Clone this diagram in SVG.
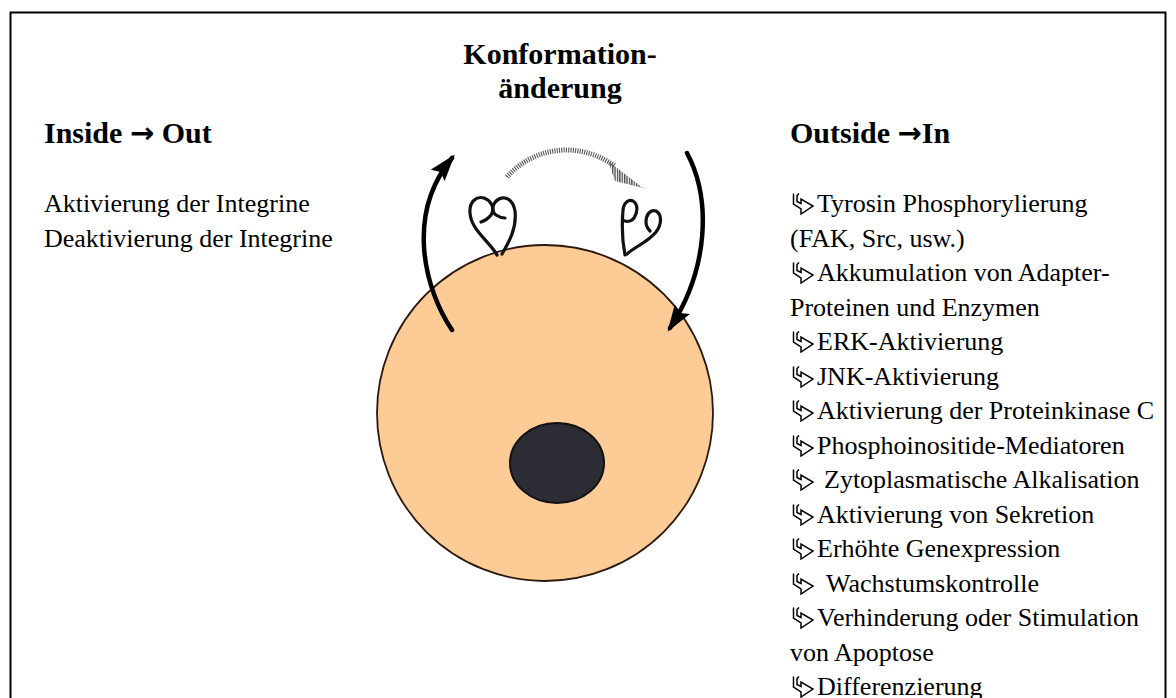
<svg xmlns="http://www.w3.org/2000/svg" width="1176" height="698" viewBox="0 0 1176 698">
  <style>
    .hdr { font-family: "Liberation Serif", "Times New Roman", serif; font-weight: bold; font-size: 30px; fill: #000; }
    .arr { font-family: "DejaVu Sans", sans-serif; font-weight: bold; font-size: 29px; }
    .txt { font-family: "Liberation Serif", "Times New Roman", serif; font-size: 26px; fill: #000; }
    .strand { fill: none; stroke: #111; stroke-width: 3.2; stroke-linecap: round; stroke-linejoin: round; }
    .bigarrow { fill: none; stroke: #000; stroke-width: 4.5; stroke-linecap: round; }
  </style>
  <defs>
    <marker id="head" viewBox="0 0 12 8" refX="10" refY="4" markerWidth="6" markerHeight="4" markerUnits="strokeWidth" orient="auto">
      <path d="M0,0 L12,4 L0,8 L2,4 Z" fill="#000"/>
    </marker>
    <pattern id="hatch" width="2.4" height="4" patternUnits="userSpaceOnUse">
      <rect x="0" y="0" width="1.3" height="4" fill="#444"/>
    </pattern>
    <!-- bullet pictogram: bent outline arrow -->
    <symbol id="bullet" viewBox="0 0 22 22">
      <path d="M1.5,0.5 V11 L9,16 V21 L21,13 L9,6 V10.5 L5,8.5 V2.5 L7,0.5" fill="none" stroke="#000" stroke-width="1.5" stroke-linejoin="miter"/>
    </symbol>
  </defs>

  <rect x="0" y="0" width="1176" height="698" fill="#fff"/>
  <!-- frame -->
  <path d="M10.5,720 V12.5 H1165.5 V720" fill="none" stroke="#000" stroke-width="2"/>

  <!-- cell -->
  <g id="cell">
    <circle cx="545" cy="413" r="168" fill="#FDCB96" stroke="#2a1a10" stroke-width="1.8"/>
    <ellipse cx="557" cy="463" rx="47" ry="40" fill="#2c2d34" stroke="#111" stroke-width="2"/>
  </g>

  <!-- integrin, bent / inactive -->
  <g id="integrin-left">
    <path class="strand" d="M497,255 C490,242 471,230 470,213 C469,201 477,196 484,198 C492,201 495,209 491,215 C488,219 484,221 481,222"/>
    <path class="strand" d="M502,254 C509,242 517,228 515,211 C513,199 505,196 499,199 C492,203 491,211 496,215 C499,217 503,218 505,218"/>
  </g>

  <!-- integrin, extended / active -->
  <g id="integrin-right">
    <path class="strand" d="M625,255 C622,240 622,222 623,210 C624,202 629,199 633,201 C638,204 638,212 634,218 C632,221 628,222 625,221"/>
    <path class="strand" d="M627,254 C636,246 648,242 656,232 C662,224 662,214 656,211 C650,209 646,215 646,222 C646,226 648,229 650,231"/>
  </g>

  <g id="connectors">
    <!-- inside-out -->
    <path class="bigarrow" d="M452,330 C425,290 405,215 452,158" marker-end="url(#head)"/>
    <!-- outside-in -->
    <path class="bigarrow" d="M687,153 C712,200 708,270 670,328" marker-end="url(#head)"/>
    <!-- conformational change -->
    <path d="M507,177 C530,150 575,138 615,166" fill="none" stroke="#555" stroke-width="5" stroke-dasharray="1.1 1.2"/>
    <path d="M608,161 L643,188 L615,181 Z" fill="url(#hatch)"/>
  </g>

  <g id="title">
    <text class="hdr" x="560" y="64" text-anchor="middle">Konformation-</text>
    <text class="hdr" x="560" y="98" text-anchor="middle">änderung</text>
  </g>

  <g id="inside-out">
    <text class="hdr" x="44" y="143">Inside <tspan class="arr">→</tspan> Out</text>
    <text class="txt" x="44" y="212">Aktivierung der Integrine</text>
    <text class="txt" x="44" y="246.5">Deaktivierung der Integrine</text>
  </g>

  <g id="outside-in">
    <text class="hdr" x="790" y="143">Outside <tspan class="arr">→</tspan>In</text>
    <use href="#bullet" x="792" y="193" width="22" height="22"/>
    <text class="txt" x="817" y="212">Tyrosin Phosphorylierung</text>
    <text class="txt" x="790" y="246.5">(FAK, Src, usw.)</text>
    <use href="#bullet" x="792" y="262" width="22" height="22"/>
    <text class="txt" x="817" y="281">Akkumulation von Adapter-</text>
    <text class="txt" x="790" y="315.5">Proteinen und Enzymen</text>
    <use href="#bullet" x="792" y="331" width="22" height="22"/>
    <text class="txt" x="817" y="350">ERK-Aktivierung</text>
    <use href="#bullet" x="792" y="366" width="22" height="22"/>
    <text class="txt" x="817" y="385">JNK-Aktivierung</text>
    <use href="#bullet" x="792" y="400" width="22" height="22"/>
    <text class="txt" x="817" y="419">Aktivierung der Proteinkinase C</text>
    <use href="#bullet" x="792" y="435" width="22" height="22"/>
    <text class="txt" x="817" y="454">Phosphoinositide-Mediatoren</text>
    <use href="#bullet" x="792" y="469" width="22" height="22"/>
    <text class="txt" x="824" y="488">Zytoplasmatische Alkalisation</text>
    <use href="#bullet" x="792" y="504" width="22" height="22"/>
    <text class="txt" x="817" y="523">Aktivierung von Sekretion</text>
    <use href="#bullet" x="792" y="538" width="22" height="22"/>
    <text class="txt" x="817" y="557">Erhöhte Genexpression</text>
    <use href="#bullet" x="792" y="573" width="22" height="22"/>
    <text class="txt" x="826" y="592">Wachstumskontrolle</text>
    <use href="#bullet" x="792" y="607" width="22" height="22"/>
    <text class="txt" x="817" y="626">Verhinderung oder Stimulation</text>
    <text class="txt" x="790" y="660.5">von Apoptose</text>
    <use href="#bullet" x="792" y="676" width="22" height="22"/>
    <text class="txt" x="817" y="695">Differenzierung</text>
  </g>
</svg>
